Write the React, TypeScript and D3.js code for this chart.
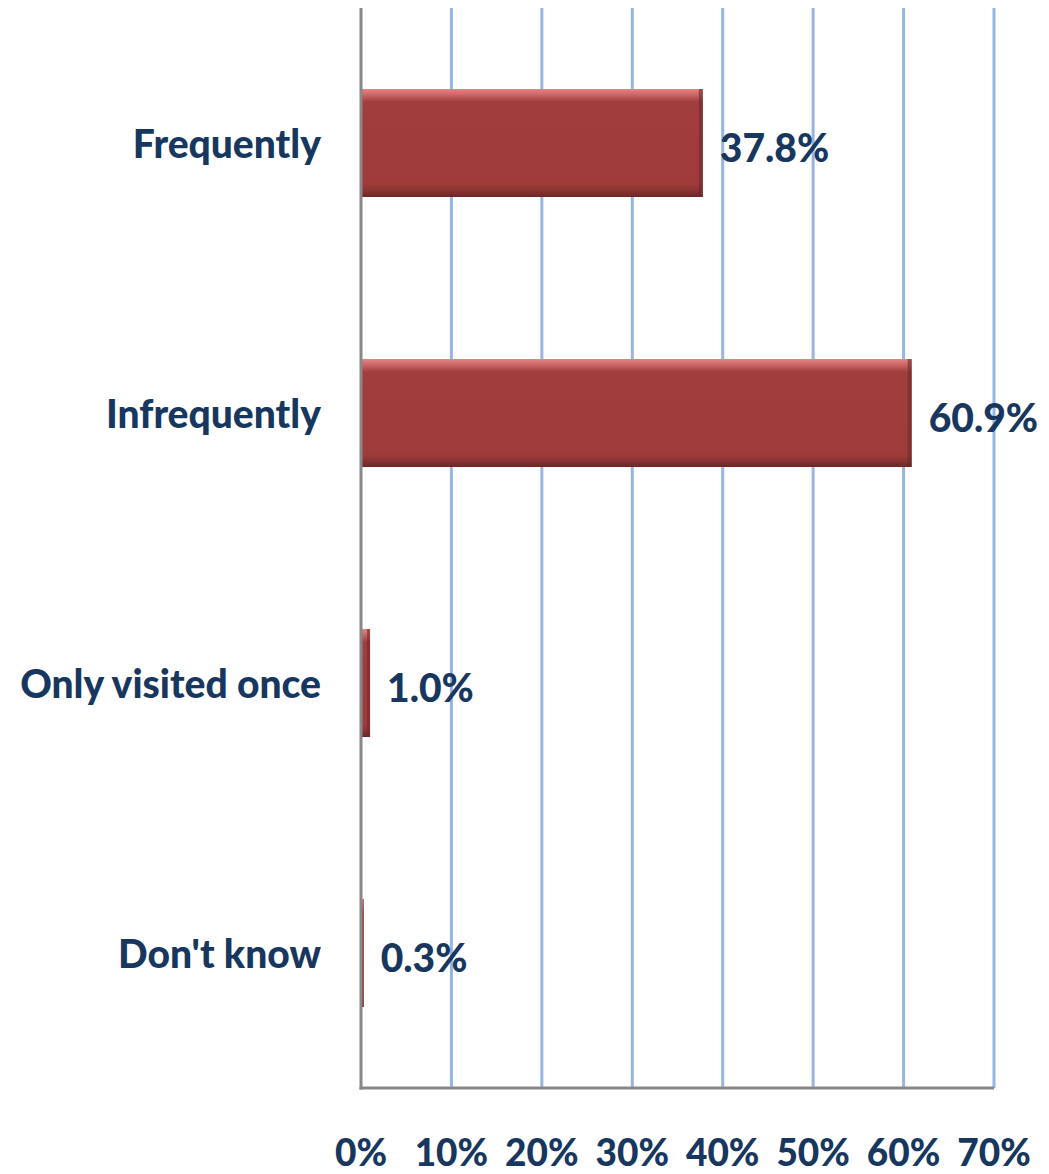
import React from "react";
import * as d3 from "d3";

const categories = ["Frequently", "Infrequently", "Only visited once", "Don't know"];
const values = [37.8, 60.9, 1.0, 0.3];
const tickValues = [0, 10, 20, 30, 40, 50, 60, 70];

const W = 1049;
const H = 1174;
const margin = { left: 361, right: 55, top: 8, bottom: 86 };
const textColor = "#17375E";
const font = "Lato, 'Open Sans', sans-serif";
const fs = 39;

export default function App() {
  const x = d3.scaleLinear().domain([0, 70]).range([margin.left, W - margin.right]);
  const y = d3
    .scaleBand<string>()
    .domain(categories)
    .range([margin.top, H - margin.bottom])
    .paddingInner(0.6)
    .paddingOuter(0.3);
  const bottom = H - margin.bottom;
  const bw = y.bandwidth();

  return (
    <svg width={W} height={H} style={{ position: "absolute", left: 0, top: 0 }}>
      <defs>
        <linearGradient id="barGrad" x1="0" y1="0" x2="0" y2="1">
          <stop offset="0" stopColor="#E58383" />
          <stop offset="0.04" stopColor="#D46E6E" />
          <stop offset="0.12" stopColor="#A03E3D" />
          <stop offset="0.88" stopColor="#9E3C3B" />
          <stop offset="0.94" stopColor="#8A3433" />
          <stop offset="1" stopColor="#6B2625" />
        </linearGradient>
      </defs>
      <rect x={0} y={0} width={W} height={H} fill="#fff" />
      {tickValues.slice(1).map((t) => (
        <line
          key={t}
          x1={x(t)}
          x2={x(t)}
          y1={margin.top}
          y2={bottom}
          stroke="#95B6E3"
          strokeWidth={3}
        />
      ))}
      {categories.map((c, i) => {
        const y0 = y(c)!;
        const x1 = x(values[i]);
        const w = Math.max(x1 - margin.left, 1.5);
        return (
          <g key={c}>
            <rect x={margin.left} y={y0} width={w} height={bw} fill="url(#barGrad)" />
            <rect
              x={margin.left + w - Math.min(4, w / 3)}
              y={y0}
              width={Math.min(4, w / 3)}
              height={bw}
              fill="#6E2928"
              opacity={0.6}
            />
            <text
              x={margin.left - 40}
              y={y0 + bw / 2}
              textAnchor="end"
              dominantBaseline="central"
              fontFamily={font}
              fontWeight={900}
              fontSize={fs}
              fill={textColor}
            >
              {c}
            </text>
            <text
              x={margin.left + w + 17}
              y={y0 + bw / 2 + 4}
              textAnchor="start"
              dominantBaseline="central"
              fontFamily={font}
              fontWeight={900}
              fontSize={fs}
              fill={textColor}
            >
              {values[i].toFixed(1) + "%"}
            </text>
          </g>
        );
      })}
      <line x1={margin.left} x2={margin.left} y1={margin.top} y2={bottom + 1.5} stroke="#888" strokeWidth={3} />
      <line x1={margin.left - 1.5} x2={x(70)} y1={bottom} y2={bottom} stroke="#888" strokeWidth={3} />
      {tickValues.map((t) => (
        <text
          key={t}
          x={x(t)}
          y={1151}
          textAnchor="middle"
          dominantBaseline="central"
          fontFamily={font}
          fontWeight={900}
          fontSize={37}
          fill={textColor}
        >
          {t + "%"}
        </text>
      ))}
    </svg>
  );
}
